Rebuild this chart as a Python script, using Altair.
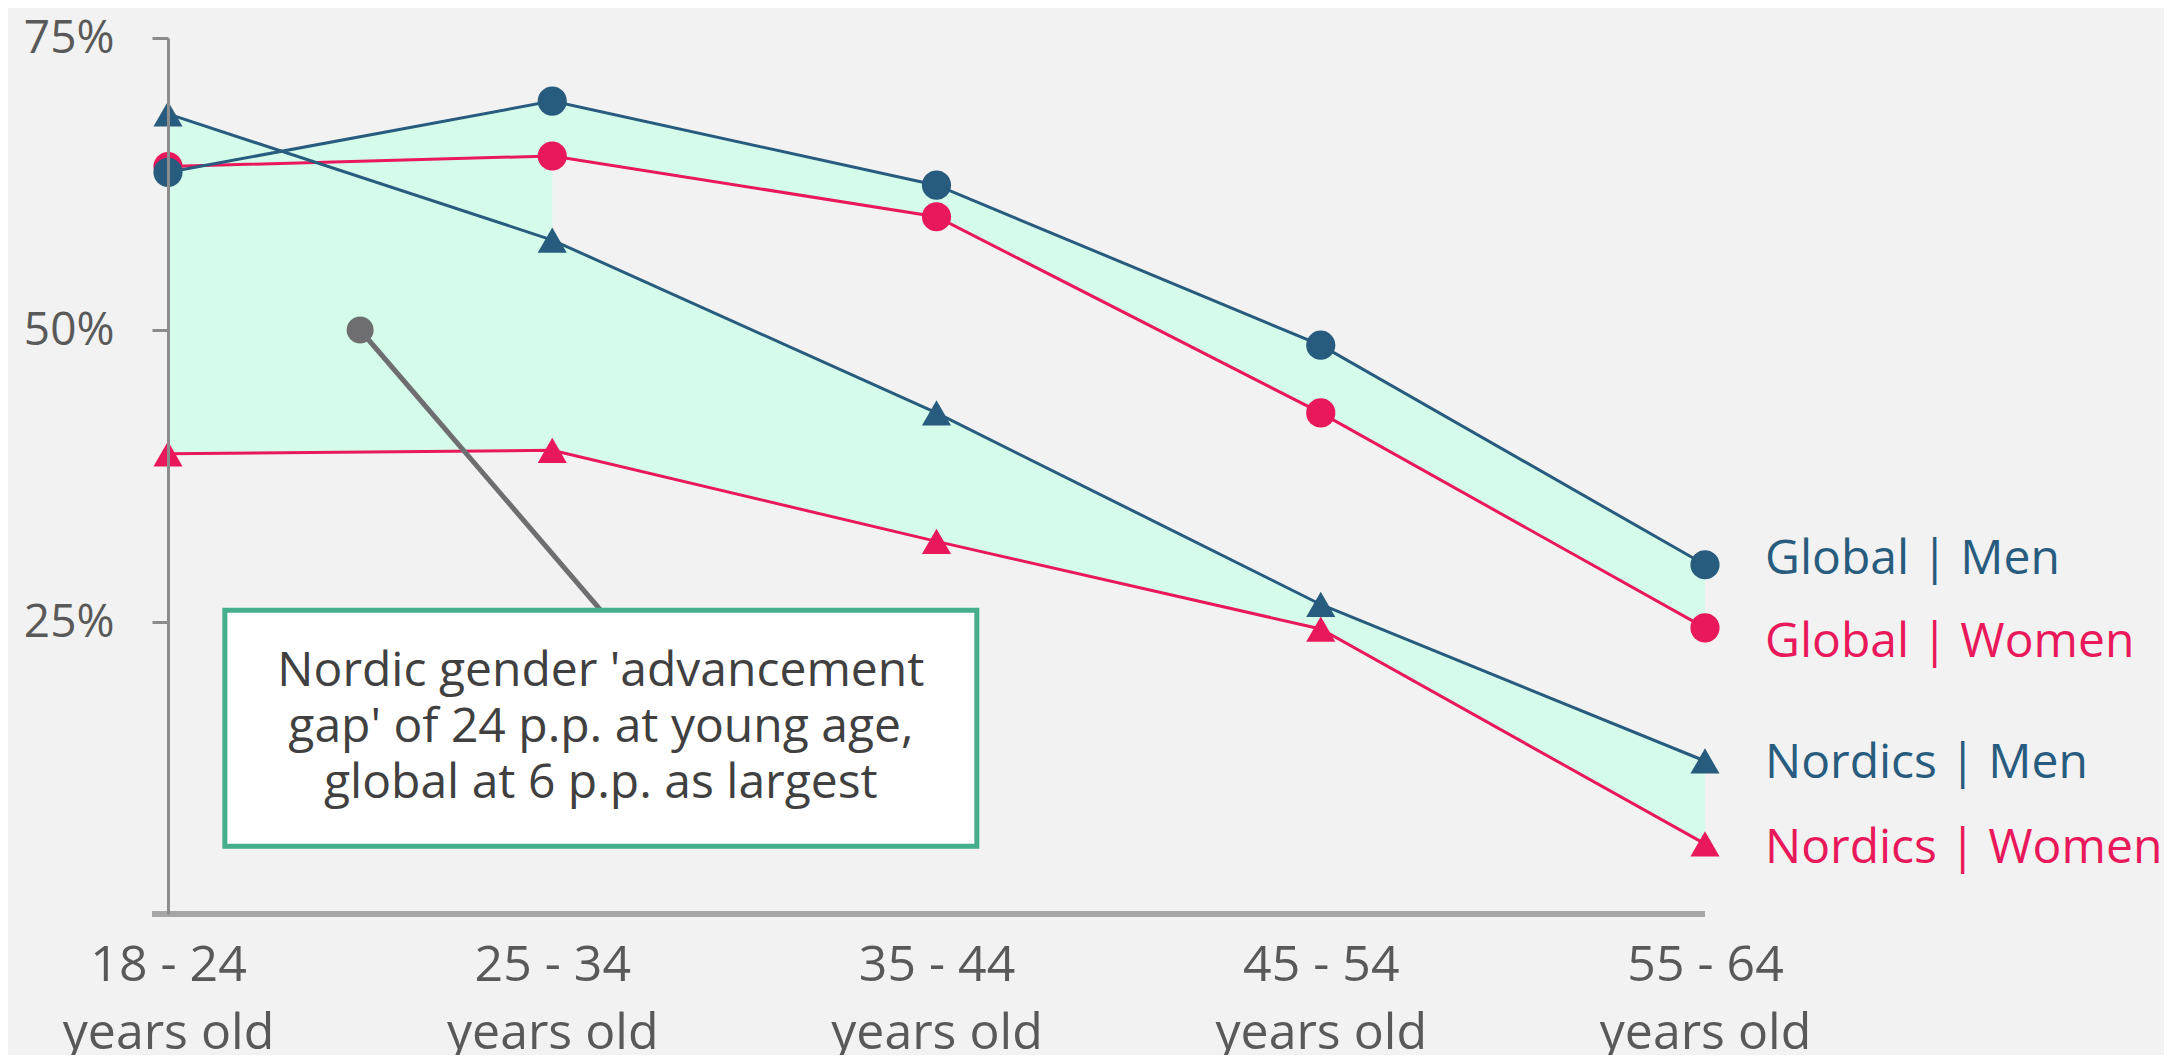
import json
import altair as alt
import pandas as pd

# ---------------- data ----------------
age_groups = ["18 - 24", "25 - 34", "35 - 44", "45 - 54", "55 - 64"]
age_suffix = "years old"
global_men = [63.5, 69.6, 62.4, 48.7, 29.9]
global_women = [64.0, 64.9, 59.7, 42.9, 24.5]
nordics_men = [68.5, 57.7, 42.9, 26.5, 13.1]
nordics_women = [39.4, 39.7, 31.9, 24.4, 6.0]
series_names = ["Global | Men", "Global | Women", "Nordics | Men", "Nordics | Women"]
y_ticks = [25, 50, 75]
note_lines = ["Nordic gender 'advancement", "gap' of 24 p.p. at young age,", "global at 6 p.p. as largest"]

# annotation placement (data units)
note_dot = (0.5, 50)
note_box = (0.148, 2.105, 26.0, 5.8)  # x1, x2, y_top, y_bottom

# ---------------- style ----------------
W, H = 1537, 876
FONT = "Open Sans"
BLUE = "#285C7E"
PINK = "#E8185A"
MINT = "#D5FCEA"
BG = "#F2F2F2"
GREEN = "#45AE8C"
GRAY = "#6E6E70"
AXIS_GRAY = "#8C8C8C"
TEXT_GRAY = "#595959"

idx = list(range(len(age_groups)))
wide = pd.DataFrame({
    "i": idx,
    "gm": global_men,
    "gw": global_women,
    "nm": nordics_men,
    "nw": nordics_women,
})

values_by_series = {
    "Global | Men": global_men,
    "Global | Women": global_women,
    "Nordics | Men": nordics_men,
    "Nordics | Women": nordics_women,
}
draw_order = ["Nordics | Women", "Global | Women", "Nordics | Men", "Global | Men"]
rows = []
for s in draw_order:
    for i, v in zip(idx, values_by_series[s]):
        rows.append({"series": s, "i": i, "v": v})
long = pd.DataFrame(rows)

x_scale = alt.Scale(domain=[0, len(age_groups) - 1], nice=False, zero=False)
y_scale = alt.Scale(domain=[0, 75], nice=False, zero=False)

label_expr = "[" + json.dumps(age_groups) + "[datum.value], " + json.dumps(age_suffix) + "]"

x_axis = alt.Axis(
    values=idx, labelExpr=label_expr, title=None, domain=False, ticks=False, grid=False,
    labelFont=FONT, labelFontSize=50, labelColor=TEXT_GRAY, labelPadding=26,
    labelLineHeight=68, labelFlush=False, labelOverlap=False, labelAngle=0, labelLimit=0,
)
y_axis = alt.Axis(
    values=y_ticks, labelExpr="datum.value + '%'", title=None, grid=False,
    domainColor=AXIS_GRAY, domainWidth=3, tickColor=AXIS_GRAY, tickWidth=3, tickSize=16,
    labelFont=FONT, labelFontSize=46, labelColor=TEXT_GRAY, labelPadding=38, zindex=1,
)

color = alt.Color("series:N", scale=alt.Scale(domain=series_names, range=[BLUE, PINK, BLUE, PINK]), legend=None)
shape = alt.Shape("series:N", scale=alt.Scale(domain=series_names, range=["circle", "circle", "triangle-up", "triangle-up"]), legend=None)

base_wide = alt.Chart(wide)

nordic_band = base_wide.mark_area(color=MINT, opacity=1).encode(
    x=alt.X("i:Q", scale=x_scale, axis=x_axis),
    y=alt.Y("nw:Q", scale=y_scale, axis=y_axis),
    y2="nm:Q",
)
global_band = base_wide.mark_area(color=MINT, opacity=1).encode(
    x=alt.X("i:Q", scale=x_scale),
    y=alt.Y("gw:Q", scale=y_scale),
    y2="gm:Q",
)
first_seg = alt.Chart(wide[wide["i"] <= 1]).mark_area(color=MINT, opacity=1).encode(
    x=alt.X("i:Q", scale=x_scale),
    y=alt.Y("nw:Q", scale=y_scale),
    y2="gm:Q",
)

x_line = alt.Chart(wide).mark_rule(color="#A6A6A6", strokeWidth=6).encode(
    x=alt.value(-16), x2=alt.value(W), y=alt.value(H)
)

lines = alt.Chart(long).mark_line(strokeWidth=3).encode(
    x=alt.X("i:Q", scale=x_scale),
    y=alt.Y("v:Q", scale=y_scale),
    color=color,
    detail="series:N",
)
points = alt.Chart(long).mark_point(filled=True, opacity=1, size=850).encode(
    x=alt.X("i:Q", scale=x_scale),
    y=alt.Y("v:Q", scale=y_scale),
    color=color,
    shape=shape,
)

label_dy = {"Global | Men": -5, "Global | Women": 15, "Nordics | Men": 3, "Nordics | Women": 5}
label_layers = []
for s, col in zip(series_names, [BLUE, PINK, BLUE, PINK]):
    df = pd.DataFrame({"i": [idx[-1]], "v": [values_by_series[s][-1]], "t": [s]})
    label_layers.append(
        alt.Chart(df).mark_text(
            align="left", baseline="middle", dx=60, dy=label_dy[s],
            font=FONT, fontSize=48, color=col,
        ).encode(
            x=alt.X("i:Q", scale=x_scale),
            y=alt.Y("v:Q", scale=y_scale),
            text="t:N",
        )
    )

box_x1, box_x2, box_top, box_bot = note_box
ann = pd.DataFrame({
    "x": [note_dot[0]], "y": [note_dot[1]],
    "x2": [(box_x1 + box_x2) / 2], "y2": [box_top],
    "bx1": [box_x1], "bx2": [box_x2], "bt": [box_top], "bb": [box_bot],
    "tx": [(box_x1 + box_x2) / 2], "ty": [(box_top + box_bot) / 2],
})
ann_rule = alt.Chart(ann).mark_rule(color=GRAY, strokeWidth=5).encode(
    x=alt.X("x:Q", scale=x_scale), y=alt.Y("y:Q", scale=y_scale), x2="x2:Q", y2="y2:Q"
)
ann_dot = alt.Chart(ann).mark_circle(color=GRAY, opacity=1, size=729).encode(
    x=alt.X("x:Q", scale=x_scale), y=alt.Y("y:Q", scale=y_scale)
)
ann_box = alt.Chart(ann).mark_rect(fill="white", stroke=GREEN, strokeWidth=5).encode(
    x=alt.X("bx1:Q", scale=x_scale), x2="bx2:Q", y=alt.Y("bt:Q", scale=y_scale), y2="bb:Q"
)
ann_text = alt.Chart(ann).mark_text(
    align="center", baseline="middle", font=FONT, fontSize=48, lineHeight=56, color="#404040",
    text=note_lines, dy=-56,
).encode(x=alt.X("tx:Q", scale=x_scale), y=alt.Y("ty:Q", scale=y_scale))

chart = alt.layer(
    nordic_band, global_band, first_seg, x_line,
    lines, points, *label_layers,
    ann_rule, ann_dot, ann_box, ann_text,
).properties(
    width=W, height=H,
    autosize=alt.AutoSizeParams(type="none"),
    padding={"left": 160, "top": 30, "right": 459, "bottom": 141},
    background=BG,
).configure_view(stroke=None)

chart.save("out.html", embed_options={"renderer": "svg", "actions": False})
